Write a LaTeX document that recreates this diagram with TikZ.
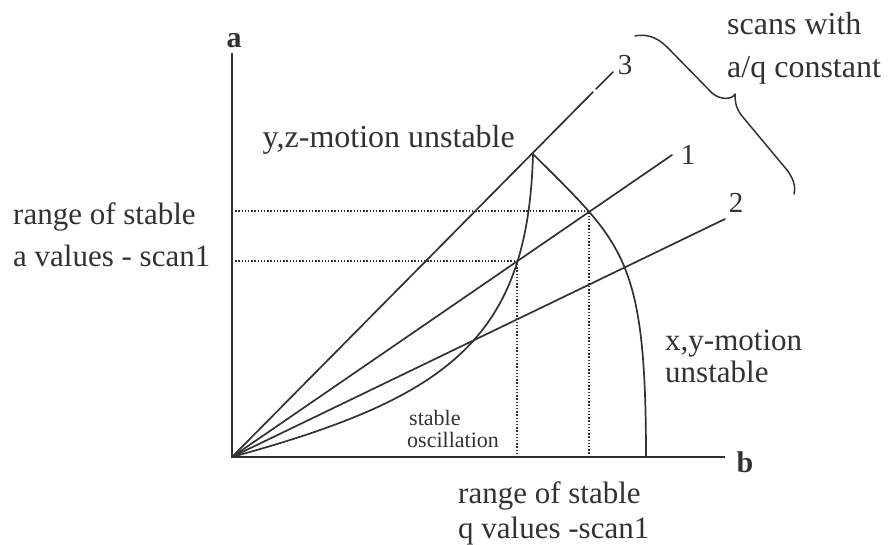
\documentclass[tikz,border=0pt]{standalone}
\usepackage{fontspec}
\setmainfont{Liberation Serif}
\definecolor{lc}{RGB}{50,50,50}
\begin{document}
\begin{tikzpicture}[x=1pt,y=-1pt,
  ln/.style={draw=lc, line width=1.7pt, line join=round, line cap=round},
  axline/.style={draw=lc, line width=2.3pt},
  dotline/.style={draw=lc, line width=1.6pt, dash pattern=on 1.4pt off 1.8pt},
  lbl/.style={inner sep=0pt, anchor=base west, font=\fontsize{31}{37}\selectfont, text=lc},
  smlbl/.style={inner sep=0pt, anchor=base west, font=\fontsize{22}{26}\selectfont, text=lc},
  dig/.style={inner sep=0pt, anchor=base, font=\fontsize{29}{33}\selectfont, text=lc},
  axlbl/.style={inner sep=0pt, anchor=base, font=\fontsize{30}{34}\selectfont\bfseries, text=lc}]
\useasboundingbox (0,0) rectangle (889,545);
% key points
\coordinate (O) at (232,457);
\coordinate (Atop) at (232,53);
\coordinate (Bend) at (725,457);
\coordinate (E3) at (613,72);
\coordinate (G3a) at (593,92);
\coordinate (G3b) at (596,89);
\coordinate (E1) at (672,155);
\coordinate (E2) at (725,219);
\coordinate (Apex) at (533,154);
\coordinate (P1) at (589,211);
\coordinate (P2) at (517,261);
\coordinate (R0) at (646,457);
% axes
\draw[axline] (Atop) -- (O) -- (Bend);
% scan lines
\draw[ln] (O) -- (G3a);
\draw[ln] (G3b) -- (E3);
\draw[ln] (O) -- (E1);
\draw[ln] (O) -- (E2);
% stability boundaries
\draw[ln] (O) .. controls (447,398) and (528,340) .. (Apex);
\draw[ln] (Apex) .. controls (623,244) and (646,257) .. (R0);
% dotted ranges
\draw[dotline] (P1 -| O) -- (P1) -- (P1 |- O);
\draw[dotline] (P2 -| O) -- (P2) -- (P2 |- O);
% brace
\draw[ln, line width=1.5pt] (635,36) .. controls (650,33) and (660,40) .. (668,48) -- (712,93) .. controls (720,100) and (732,100) .. (735,94) .. controls (735,104) and (737,110) .. (742,116) -- (787,170) .. controls (793,178) and (796,186) .. (794,194);
% labels
\node[axlbl] (la) at (234,48) {a};
\node[axlbl] (lb) at (745,472) {b};
\node[dig] (n3) at (625,75) {3};
\node[dig] (n1) at (688,165) {1};
\node[dig] (n2) at (736,213) {2};
\node[lbl, anchor=base east, font=\fontsize{32}{38}\selectfont] (yz) at (515,148) {y,z-motion unstable};
\node[lbl] (ra1) at (13,225) {range of stable};
\node[lbl] (ra2) at (13,267) {a values - scan1};
\node[lbl, font=\fontsize{32}{38}\selectfont] (sc1) at (727,35) {scans with};
\node[lbl, font=\fontsize{32}{38}\selectfont] (sc2) at (727,78) {a/q constant};
\node[lbl] (xy1) at (665,350) {x,y-motion};
\node[lbl] (xy2) at (665,382) {unstable};
\node[smlbl] (st1) at (409,425) {stable};
\node[smlbl] (st2) at (407,447) {oscillation};
\node[lbl] (rq1) at (458,503) {range of stable};
\node[lbl] (rq2) at (458,538) {q values -scan1};
\end{tikzpicture}
\end{document}
